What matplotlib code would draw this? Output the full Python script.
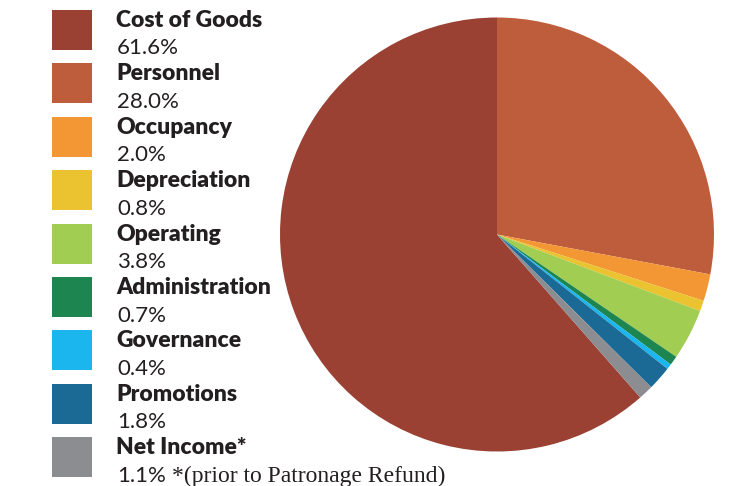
import matplotlib
matplotlib.use("Agg")
import matplotlib.pyplot as plt
from matplotlib.patches import Rectangle

categories = ["Cost of Goods", "Personnel", "Occupancy", "Depreciation", "Operating",
              "Administration", "Governance", "Promotions", "Net Income*"]
values = [61.6, 28.0, 2.0, 0.8, 3.8, 0.7, 0.4, 1.8, 1.1]
pct_labels = ["61.6%", "28.0%", "2.0%", "0.8%", "3.8%", "0.7%", "0.4%", "1.8%", "1.1%"]
footnote = "*(prior to Patronage Refund)"
colors = ["#9A4134", "#BE5D3C", "#F39634", "#EBC22F", "#A2CD53",
          "#1C8550", "#1CB6EE", "#1A6A95", "#8C8D91"]

W, H = 735, 486
fig = plt.figure(figsize=(W / 100, H / 100), dpi=100)

# pie
cx, cy, r = 497, 234.5, 217
ax = fig.add_axes([(cx - r) / W, (H - cy - r) / H, 2 * r / W, 2 * r / H])
total = sum(values)
start = 90 + values[0] / total * 360
ax.pie(values, colors=colors, startangle=start, counterclock=False, radius=1,
       wedgeprops=dict(linewidth=0))
ax.set_xlim(-1, 1)
ax.set_ylim(-1, 1)
ax.axis("off")

# legend
txt = "#231F20"
step = 53.4
last_pct = None
for i, (cat, pct, col) in enumerate(zip(categories, pct_labels, colors)):
    top = 10 + step * i
    fig.patches.append(Rectangle((52 / W, 1 - (top + 40) / H), 40 / W, 40 / H,
                                 transform=fig.transFigure, facecolor=col,
                                 edgecolor="none"))
    fig.text(116 / W, 1 - (27 + step * i) / H, cat, fontsize=16.5, fontweight="heavy",
             family="Lato", color=txt, va="baseline", ha="left")
    last_pct = fig.text(117 / W, 1 - (54.5 + step * i) / H, pct, fontsize=16,
                        family="Lato", color=txt, va="baseline", ha="left")

fig.canvas.draw()
bb = last_pct.get_window_extent()
fig.text((bb.x1 + 6) / W, 1 - (54.5 + step * 8) / H, footnote, fontsize=17,
         family="Liberation Serif", color=txt, va="baseline", ha="left")

fig.savefig("out.png", dpi=100, facecolor="white")
